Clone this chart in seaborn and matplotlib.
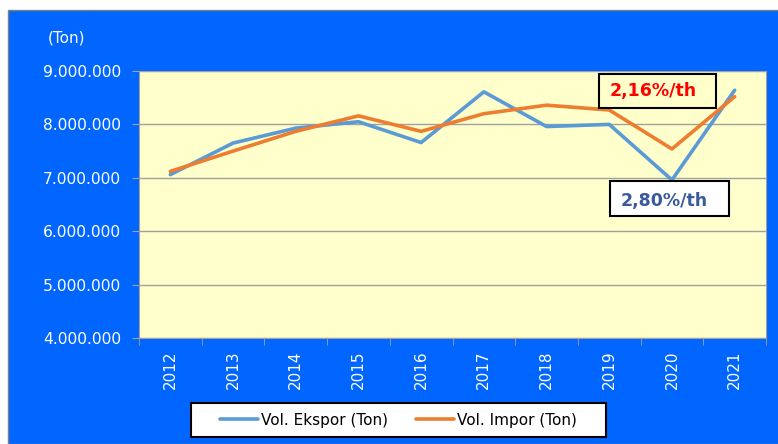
import numpy as np
import pandas as pd
import matplotlib
matplotlib.use("Agg")
import matplotlib.pyplot as plt
from matplotlib.patches import Rectangle
from matplotlib.ticker import FuncFormatter, FixedLocator
import seaborn as sns

# data (tons)
years = ["2012", "2013", "2014", "2015", "2016", "2017", "2018", "2019", "2020", "2021"]
vol_ekspor = [7060000, 7650000, 7930000, 8050000, 7660000, 8610000, 7960000, 8000000, 6960000, 8640000]
vol_impor = [7120000, 7500000, 7870000, 8160000, 7870000, 8200000, 8360000, 8270000, 7540000, 8520000]
series_names = ["Vol. Ekspor (Ton)", "Vol. Impor (Ton)"]

df = pd.concat([
    pd.DataFrame({"Tahun": years, "Volume": vol_ekspor, "Seri": series_names[0]}),
    pd.DataFrame({"Tahun": years, "Volume": vol_impor, "Seri": series_names[1]}),
])

sns.set_style("white")
plt.rcParams["font.family"] = ["DejaVu Sans"]

W, H = 778, 444
fig = plt.figure(figsize=(W / 100, H / 100), dpi=100)
fig.patch.set_facecolor("white")
# blue chart frame, kept behind the axes
fig.patches.append(Rectangle((8 / W, 0), 1, (H - 10) / H, transform=fig.transFigure,
                             facecolor="#0066FF", edgecolor="#7F7F7F", lw=1, zorder=-5))

ax = fig.add_axes([139 / W, 1 - 338 / H, (766 - 139) / W, (338 - 71) / H])
ax.set_facecolor("#FFFFCC")

sns.lineplot(data=df, x="Tahun", y="Volume", hue="Seri", palette=["#5B9BD5", "#ED7D31"],
             linewidth=2.6, ax=ax, sort=False)

ax.set_xlim(-0.5, len(years) - 0.5)
ax.set_ylim(4000000, 9000000)
ax.set_yticks(np.arange(4000000, 9000001, 1000000))
ax.yaxis.set_major_formatter(FuncFormatter(lambda v, p: f"{int(v):,}".replace(",", ".")))
ax.grid(axis="y", color="#A0A0A0", lw=1)
ax.set_axisbelow(True)

ax.set_xticks(range(len(years)))
ax.set_xticklabels(years, rotation=90)
ax.xaxis.set_minor_locator(FixedLocator(np.arange(-0.5, len(years), 1)))
ax.tick_params(axis="x", which="major", length=0, pad=9, labelsize=11, labelcolor="white")
ax.tick_params(axis="x", which="minor", length=5, color="#A0A0A0", direction="out", bottom=True)
ax.tick_params(axis="y", length=5, color="#A0A0A0", direction="out", labelsize=11.2, pad=8,
               labelcolor="white", left=True)
for s in ax.spines.values():
    s.set_color("#A0A0A0")
ax.set_xlabel("")
ax.set_ylabel("")

fig.text(48 / W, 1 - 38 / H, "(Ton)", color="white", fontsize=11, va="center")

# growth annotation boxes
ax.add_patch(Rectangle((6.84, 8307000), 1.86, 637000, facecolor="#FFFFCC",
                       edgecolor="black", lw=1.5, zorder=4))
ax.text(7.70, 8630000, "2,16%/th", color="red", fontsize=12.5, fontweight="bold",
        ha="center", va="center", zorder=5)
ax.add_patch(Rectangle((7.01, 6285000), 1.90, 655000, facecolor="white",
                       edgecolor="black", lw=1.5, zorder=4))
ax.text(7.87, 6560000, "2,80%/th", color="#3A5A9C", fontsize=12.5, fontweight="bold",
        ha="center", va="center", zorder=5)

# legend with an Excel-like wide box
ax.legend_.remove()
fig.patches.append(Rectangle((191 / W, 1 - 437 / H), (606 - 191) / W, (437 - 403) / H,
                             transform=fig.transFigure, facecolor="white",
                             edgecolor="black", lw=1.5, zorder=3))
handles, labels = ax.get_legend_handles_labels()
leg = fig.legend(handles, labels, loc="center left", bbox_to_anchor=(206 / W, 1 - 420 / H),
                 ncol=2, frameon=False, fontsize=11, handlelength=2.5, labelcolor="black",
                 handletextpad=0.2, columnspacing=1.8)

fig.savefig("out.png", dpi=100)
